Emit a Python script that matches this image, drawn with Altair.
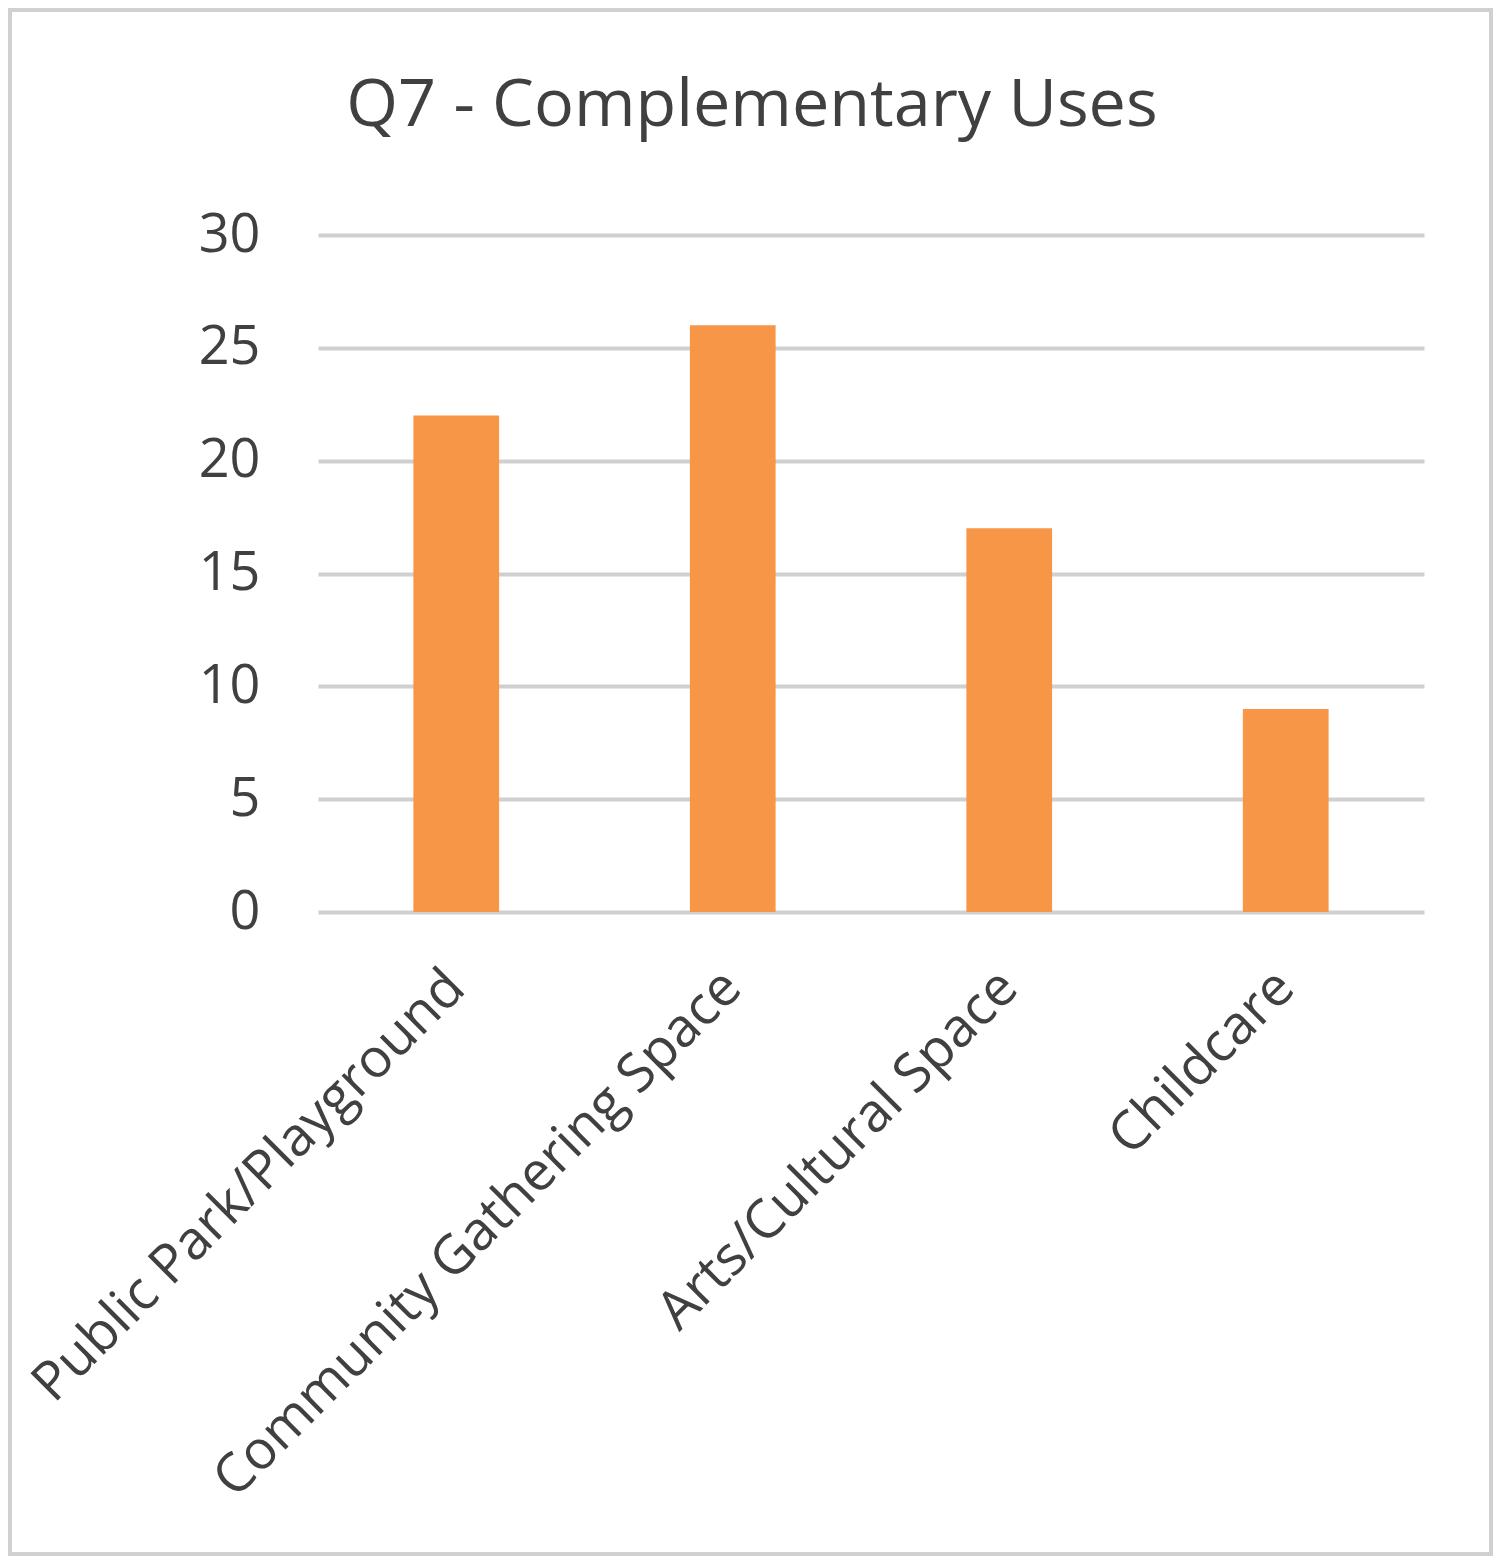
import altair as alt
import pandas as pd

categories = ["Public Park/Playground", "Community Gathering Space", "Arts/Cultural Space", "Childcare"]
values = [22, 26, 17, 9]
y_ticks = [0, 5, 10, 15, 20, 25, 30]

df = pd.DataFrame({"category": categories, "value": values})

FONT = "Open Sans"
TEXT = "#404040"
GRID = "#d0d0d0"

PL, PT, W, H, PR, PB = 310, 227, 1106, 677, 69, 644

bars = alt.Chart(df).mark_bar(color="#f79646").encode(
    x=alt.X("category:N", sort=categories,
            scale=alt.Scale(paddingInner=0.69, paddingOuter=0.345),
            axis=alt.Axis(title=None, labelAngle=-45, labelAlign="right", labelBaseline="middle",
                          labelFontSize=54, labelFont=FONT, labelColor=TEXT, labelPadding=67,
                          ticks=False, domain=False, labelLimit=1000)),
    y=alt.Y("value:Q", scale=alt.Scale(domain=[0, 30]),
            axis=alt.Axis(title=None, values=y_ticks, labelFontSize=54, labelFont=FONT,
                          labelColor=TEXT, labelPadding=58, ticks=False, domain=False,
                          gridColor=GRID, gridWidth=4)),
)

border = alt.Chart(df).mark_rect(fill=None, stroke=GRID, strokeWidth=4).encode(
    x=alt.value(-PL + 2), x2=alt.value(W + PR - 2),
    y=alt.value(-PT + 2), y2=alt.value(H + PB - 2),
)

chart = alt.layer(bars, border).properties(
    width=W, height=H,
    padding={"left": PL, "top": PT, "right": PR, "bottom": PB},
    autosize=alt.AutoSizeParams(type="none"),
    title=alt.TitleParams("Q7 - Complementary Uses", font=FONT, fontSize=66.5, fontWeight="normal",
                          color=TEXT, anchor="middle", dx=-119, offset=-131),
).configure_view(stroke=None)

chart.save("out.html", embed_options={"renderer": "svg", "actions": False})
